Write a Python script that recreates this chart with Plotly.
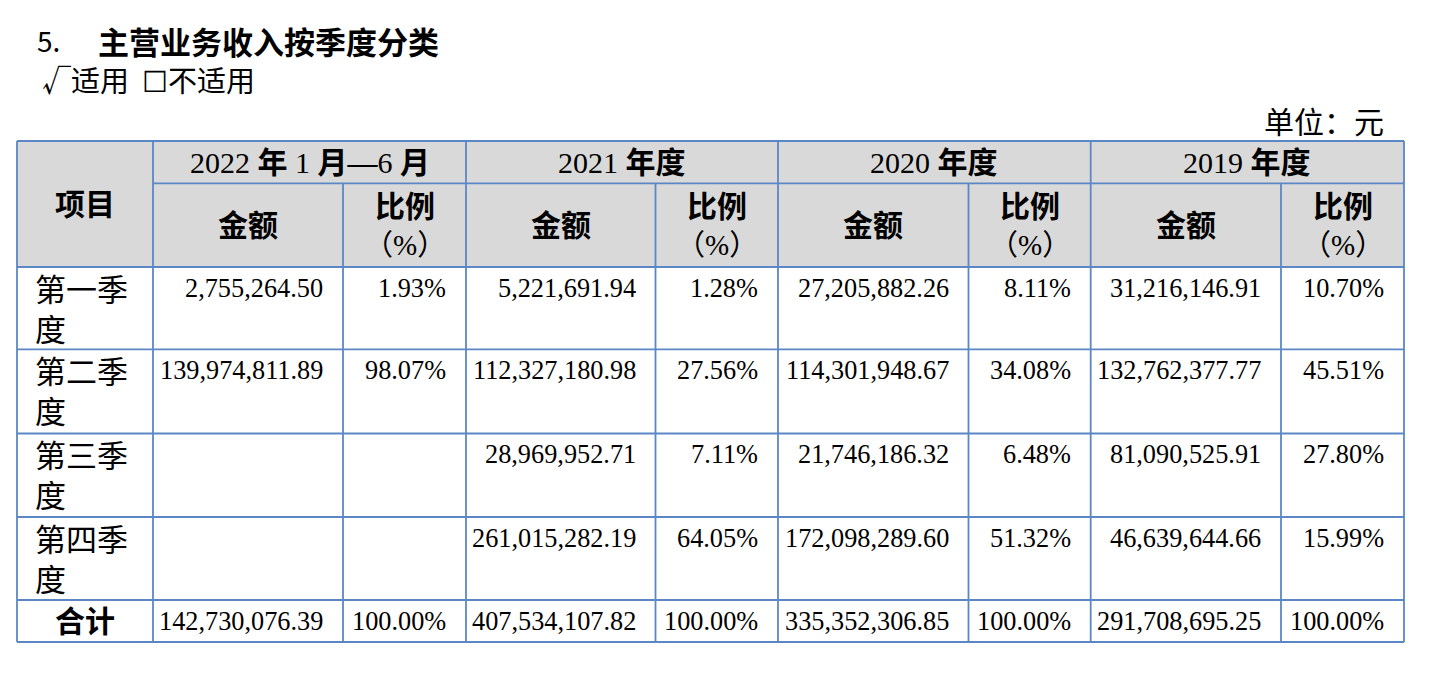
import re
import plotly.graph_objects as go

# ---------------- data ----------------
title_no = "5."
title_text = "主营业务收入按季度分类"
applicable = "√适用  ☐不适用"
unit_text = "单位：元"
row_header = "项目"
periods = ["2022 年 1 月—6 月", "2021 年度", "2020 年度", "2019 年度"]
sub_amount = "金额"
sub_ratio_1 = "比例"
sub_ratio_2 = "（%）"
quarters = ["第一季度", "第二季度", "第三季度", "第四季度"]
total_label = "合计"

amount_2022 = [2755264.50, 139974811.89, None, None]
amount_2021 = [5221691.94, 112327180.98, 28969952.71, 261015282.19]
amount_2020 = [27205882.26, 114301948.67, 21746186.32, 172098289.60]
amount_2019 = [31216146.91, 132762377.77, 81090525.91, 46639644.66]
ratio_2022 = [1.93, 98.07, None, None]
ratio_2021 = [1.28, 27.56, 7.11, 64.05]
ratio_2020 = [8.11, 34.08, 6.48, 51.32]
ratio_2019 = [10.70, 45.51, 27.80, 15.99]
total_amounts = [142730076.39, 407534107.82, 335352306.85, 291708695.25]
total_ratios = [100.00, 100.00, 100.00, 100.00]

amounts = [amount_2022, amount_2021, amount_2020, amount_2019]
ratios = [ratio_2022, ratio_2021, ratio_2020, ratio_2019]

# ---------------- layout geometry (pixels) ----------------
W, H = 1430, 675
OFF = 8  # page body margin
x_left = 17
x_col1 = 153
group_edges = [(153, 343, 466), (466, 655.5, 778), (778, 968.5, 1090.7), (1090.7, 1281, 1404)]
x_right = 1404
y_top = 141
y_hdr1 = 183.3
y_hdr2 = 267
row_edges = [267, 349.3, 433.5, 517, 600, 642]

LINE = "#5b87c6"
HDR_FILL = "#d9d9d9"
SERIF = "Liberation Serif, Noto Sans CJK SC"
CJK = "Noto Sans CJK SC"
FS = 26.3

fig = go.Figure()
shapes = []
ann = []


def bold_cjk(s):
    return re.sub(r"([\u3000-\u9fff\uff00-\uffef—]+)", r"<b>\1</b>", s)


def A(x, y, text, size=FS, family=SERIF, xanchor="center", yanchor="middle", height=None):
    d = dict(x=x, y=y, xref="x", yref="y", text=text, showarrow=False,
             xanchor=xanchor, yanchor=yanchor,
             font=dict(size=size, family=family, color="#000000"))
    if height is not None:
        d["height"] = height
        d["valign"] = "middle"
    ann.append(d)


def L(x0, y0, x1, y1):
    shapes.append(dict(type="line", x0=x0, y0=y0, x1=x1, y1=y1, xref="x", yref="y",
                       line=dict(color=LINE, width=1.8)))


# header background
shapes.append(dict(type="rect", x0=x_left, y0=y_top, x1=x_right, y1=y_hdr2, xref="x", yref="y",
                   fillcolor=HDR_FILL, line=dict(width=0), layer="below"))

# horizontal lines
L(x_left, y_top, x_right, y_top)
L(x_col1, y_hdr1, x_right, y_hdr1)
for y in row_edges:
    L(x_left, y, x_right, y)
# vertical lines
L(x_left, y_top, x_left, row_edges[-1])
L(x_col1, y_top, x_col1, row_edges[-1])
for g0, gm, g1 in group_edges:
    L(g1, y_top, g1, row_edges[-1])
    L(gm, y_hdr1, gm, row_edges[-1])

# titles
A(35, 40, title_no, size=28, family=CJK, xanchor="left", height=34)
A(96, 40, "<b>" + title_text + "</b>", size=31, family=CJK, xanchor="left", height=36)
A(40, 79, applicable, size=29, family=CJK, xanchor="left", height=34)
A(1386, 120, unit_text, size=30, family=CJK, xanchor="right")

# header texts
A((x_left + x_col1) / 2, (y_top + y_hdr2) / 2, bold_cjk(row_header), size=30)
for (g0, gm, g1), p in zip(group_edges, periods):
    A((g0 + g1) / 2, (y_top + y_hdr1) / 2, bold_cjk(p), size=30)
    A((g0 + gm) / 2, (y_hdr1 + y_hdr2) / 2, bold_cjk(sub_amount), size=30)
    A((gm + g1) / 2, 206, bold_cjk(sub_ratio_1), size=30)
    A((gm + g1) / 2, 245, sub_ratio_2, size=29)

# data rows
pad = 18
for i, q in enumerate(quarters):
    top = row_edges[i]
    A(33, top + 23, q[:3], size=31, xanchor="left")
    A(33, top + 63, q[3:], size=31, xanchor="left")
    for (g0, gm, g1), am, ra in zip(group_edges, amounts, ratios):
        if am[i] is not None:
            A(gm - pad, top + 21, f"{am[i]:,.2f}", size=FS, xanchor="right")
        if ra[i] is not None:
            A(g1 - pad, top + 21, f"{ra[i]:.2f}%", size=FS, xanchor="right")

# total row
ty = (row_edges[-2] + row_edges[-1]) / 2
A((x_left + x_col1) / 2, ty, bold_cjk(total_label), size=30)
for (g0, gm, g1), ta, tr in zip(group_edges, total_amounts, total_ratios):
    A(gm - pad, ty, f"{ta:,.2f}", size=FS, xanchor="right")
    A(g1 - pad, ty, f"{tr:.2f}%", size=FS, xanchor="right")

fig.update_layout(
    width=W - OFF, height=H - OFF, margin=dict(l=0, r=0, t=0, b=0),
    paper_bgcolor="white", plot_bgcolor="white",
    xaxis=dict(range=[OFF, W], visible=False, fixedrange=True),
    yaxis=dict(range=[H, OFF], visible=False, fixedrange=True),
    shapes=shapes, annotations=ann, showlegend=False,
)
fig.write_html("out.html")
